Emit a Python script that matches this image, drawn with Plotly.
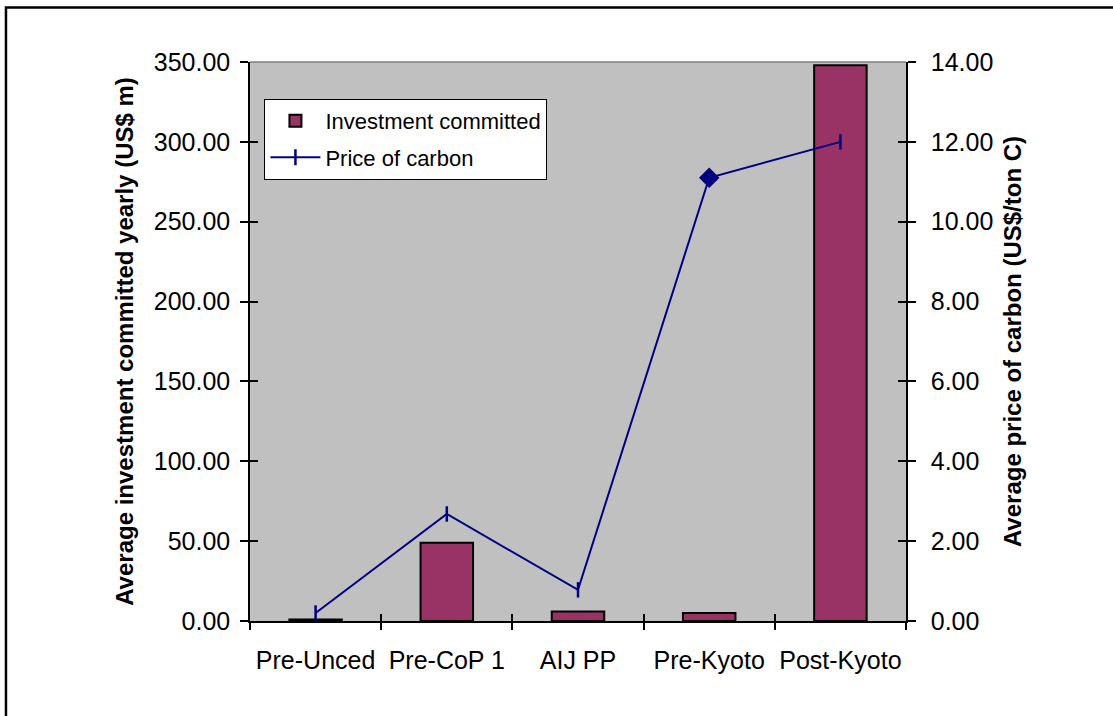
import plotly.graph_objects as go

categories = ["Pre-Unced", "Pre-CoP 1", "AIJ PP", "Pre-Kyoto", "Post-Kyoto"]
investment = [1.0, 49.0, 6.0, 5.0, 348.0]
price = [0.2, 2.68, 0.78, 11.1, 12.0]
marker_symbols = ["line-ns-open", "line-ns-open", "line-ns-open", "diamond", "line-ns-open"]
left_ticks = [0, 50, 100, 150, 200, 250, 300, 350]
right_ticks = [0, 2, 4, 6, 8, 10, 12, 14]

FONT = "Liberation Sans, Arial, sans-serif"
NAVY = "#000080"
PLUM = "#993366"

fig = go.Figure()
fig.add_trace(go.Bar(
    x=categories, y=investment, name="Investment committed",
    marker=dict(color=PLUM, line=dict(color="black", width=2)),
    width=0.4, yaxis="y", xaxis="x", legendgroup="a",
))
fig.add_trace(go.Scatter(
    x=categories, y=price, name="Price of carbon", mode="lines+markers",
    line=dict(color=NAVY, width=2),
    marker=dict(symbol=marker_symbols, size=[11, 11, 11, 13, 11], color=NAVY,
                opacity=1, line=dict(color=NAVY, width=2.5)),
    yaxis="y2", xaxis="x", legendgroup="b",
))

n = len(categories)
bounds = [i - 0.5 for i in range(n + 1)]

fig.update_layout(
    width=1113, height=716,
    margin=dict(l=250, r=207, t=62, b=95),
    paper_bgcolor="white", plot_bgcolor="#C0C0C0",
    font=dict(family=FONT, size=25, color="black"),
    showlegend=True,
    legend=dict(x=0.022, y=0.934, xanchor="left", yanchor="top",
                bgcolor="white", bordercolor="black", borderwidth=1,
                font=dict(size=22, family=FONT), itemwidth=50,
                traceorder="grouped", tracegroupgap=5),
    xaxis=dict(type="category", categoryarray=categories, categoryorder="array",
               range=[-0.5, n - 0.5], tickson="boundaries", ticks="outside",
               ticklen=7, tickwidth=1.5, tickcolor="black", tickangle=0,
               showline=True, linecolor="black", linewidth=1.5, automargin=False,
               showgrid=False, zeroline=False, tickfont=dict(size=25),
               ticklabelstandoff=16),
    xaxis2=dict(overlaying="x", range=[-0.5, n - 0.5], tickvals=bounds,
                ticks="inside", ticklen=7, tickwidth=1.5, tickcolor="black",
                showticklabels=False, showgrid=False, zeroline=False,
                side="bottom", anchor="y", automargin=False),
    yaxis=dict(range=[0, 350], tickvals=left_ticks, tickformat=".2f",
               ticks="outside", ticklen=8, tickwidth=1.5, tickcolor="black",
               showline=True, linecolor="black", linewidth=1.5, automargin=False,
               showgrid=False, zeroline=False, tickfont=dict(size=25),
               ticklabelstandoff=5,
               title=dict(text="<b>Average investment committed yearly (US$ m)</b>",
                          font=dict(size=24), standoff=13)),
    yaxis2=dict(range=[0, 14], tickvals=right_ticks, tickformat=".2f",
                overlaying="y", side="right", automargin=False,
                ticks="outside", ticklen=8, tickwidth=1.5, tickcolor="black",
                showline=True, linecolor="black", linewidth=1.5,
                showgrid=False, zeroline=False, tickfont=dict(size=25),
                ticklabelstandoff=10,
                title=dict(text="<b>Average price of carbon (US$/ton C)</b>",
                           font=dict(size=24), standoff=12)),
    yaxis3=dict(range=[0, 350], tickvals=left_ticks, overlaying="y", side="left",
                ticks="inside", ticklen=8, tickwidth=1.5, tickcolor="black",
                showticklabels=False, showgrid=False, zeroline=False, automargin=False),
    yaxis4=dict(range=[0, 14], tickvals=right_ticks, overlaying="y", side="right",
                ticks="inside", ticklen=8, tickwidth=1.5, tickcolor="black",
                showticklabels=False, showgrid=False, zeroline=False, automargin=False),
    shapes=[
        dict(type="line", xref="paper", yref="paper", x0=0, x1=1, y0=1, y1=1,
             line=dict(color="#808080", width=1.5)),
        dict(type="rect", xref="paper", yref="paper", x0=-0.372, x1=1.5,
             y0=-0.4, y1=1.0975, line=dict(color="black", width=2.5),
             fillcolor="rgba(0,0,0,0)", layer="above"),
    ],
)

# invisible helper traces that activate the overlay tick axes
fig.add_trace(go.Scatter(x=[0], y=[0], xaxis="x2", yaxis="y3", mode="markers",
                         marker=dict(opacity=0), showlegend=False, hoverinfo="skip"))
fig.add_trace(go.Scatter(x=[0], y=[0], xaxis="x2", yaxis="y4", mode="markers",
                         marker=dict(opacity=0), showlegend=False, hoverinfo="skip"))

fig.write_html("out.html")
